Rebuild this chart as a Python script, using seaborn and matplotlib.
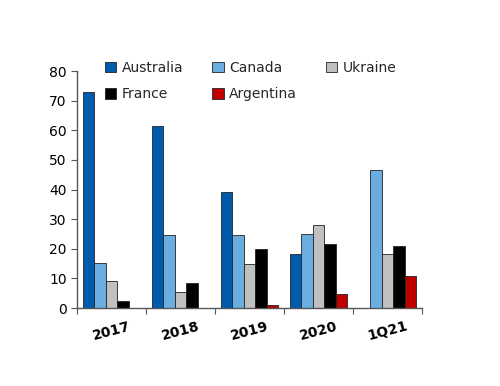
import numpy as np
import pandas as pd
import matplotlib
matplotlib.use("Agg")
import matplotlib.pyplot as plt
import seaborn as sns

# Données
periodes = ["2017", "2018", "2019", "2020", "1Q21"]
pays = ["Australia", "Canada", "Ukraine", "France", "Argentina"]
australia = [73.0, 61.3, 39.0, 18.3, 0.0]
canada = [15.3, 24.7, 24.7, 24.9, 46.5]
ukraine = [9.0, 5.5, 14.8, 28.0, 18.4]
france = [2.5, 8.3, 19.8, 21.7, 20.9]
argentina = [0.0, 0.0, 0.9, 4.7, 10.9]
couleurs = ["#005BAC", "#6AAEE0", "#C0C0C0", "#000000", "#C00000"]

valeurs = {"Australia": australia, "Canada": canada, "Ukraine": ukraine,
           "France": france, "Argentina": argentina}
df = pd.DataFrame([
    {"periode": p, "pays": c, "valeur": v}
    for c in pays for p, v in zip(periodes, valeurs[c])
])

sns.set_style("white")
plt.rcParams["font.family"] = ["DejaVu Sans"]

fig = plt.figure(figsize=(5, 3.86), dpi=100)
ax = fig.add_axes([0.154, 0.202, 0.69, 0.614])

sns.barplot(data=df, x="periode", y="valeur", hue="pays", order=periodes,
            hue_order=pays, palette=couleurs, saturation=1, width=0.84,
            gap=0, edgecolor="#222222", linewidth=0.6, ax=ax, legend=True)

ax.set_ylim(0, 80)
ax.set_xlim(-0.5, 4.5)
ax.set_yticks(range(0, 81, 10))
ax.set_xlabel("")
ax.set_ylabel("")
sns.despine(ax=ax)
for s in ["left", "bottom"]:
    ax.spines[s].set_color("#555555")
    ax.spines[s].set_linewidth(1.0)

# ticks aux frontières des groupes, étiquettes au centre
ax.set_xticks(np.arange(-0.5, 5.0, 1.0))
ax.set_xticklabels([])
ax.set_xticks(range(len(periodes)), minor=True)
ax.set_xticklabels(periodes, minor=True, rotation=15, fontweight="bold",
                   fontsize=10, color="black")
ax.tick_params(axis="x", which="major", length=4, color="#555555",
               direction="out", bottom=True)
ax.tick_params(axis="x", which="minor", length=0, pad=8)
ax.tick_params(axis="y", length=4, color="#555555", direction="out",
               left=True, labelsize=10, labelcolor="black")

# légende remplie ligne par ligne (3 colonnes)
handles, labels = ax.get_legend_handles_labels()
ax.get_legend().remove()
ordre = [0, 3, 1, 4, 2]
fig.legend([handles[i] for i in ordre], [labels[i] for i in ordre],
           ncol=3, frameon=False, fontsize=10,
           loc="upper left", bbox_to_anchor=(0.185, 0.875),
           handlelength=0.8, handleheight=0.8, handletextpad=0.4,
           columnspacing=2.1, labelspacing=0.9)

fig.savefig("out.png", dpi=100)
